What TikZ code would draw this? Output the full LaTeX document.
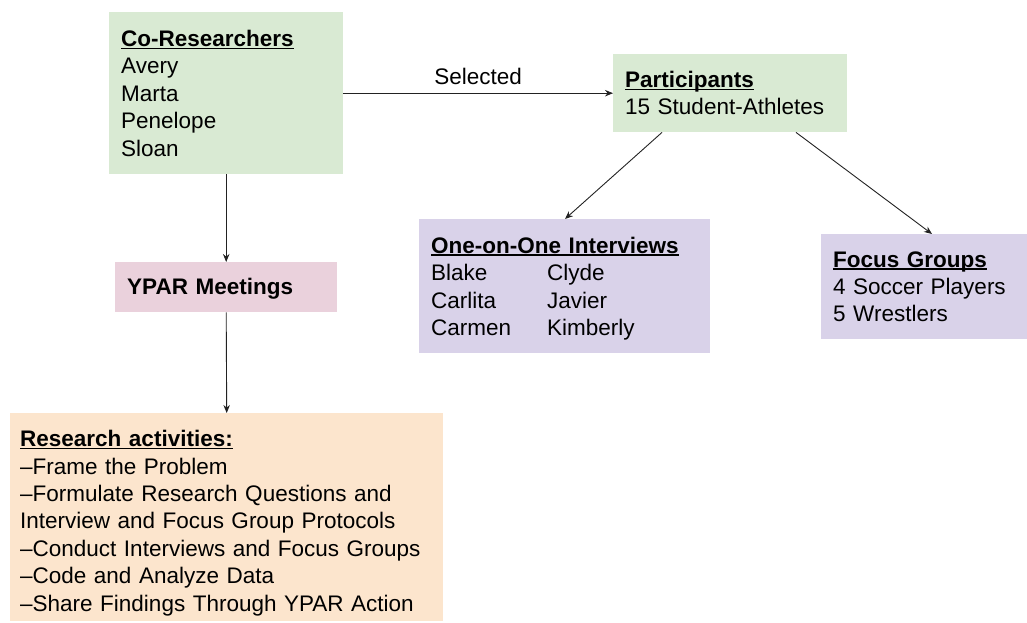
\documentclass[tikz,border=0pt]{standalone}
\usepackage{fontspec}
\setmainfont{Liberation Sans}
\usetikzlibrary{arrows.meta,calc}
\definecolor{cgreen}{HTML}{D9EAD3}
\definecolor{cpink}{HTML}{EAD1DC}
\definecolor{clav}{HTML}{D9D2E9}
\definecolor{cpeach}{HTML}{FCE5CD}
\definecolor{cline}{HTML}{222222}
\newcommand\myul[1]{\setbox0\hbox{\textbf{#1}}\rlap{\rule[-2.6pt]{\wd0}{1.4pt}}\box0}
\tikzset{
  box/.style={anchor=north west, inner xsep=12pt, inner ysep=0pt, align=left,
    font=\fontsize{22.5}{27.4}\selectfont, draw=none},
  conn/.style={draw=cline, line width=0.9pt, -{Stealth[length=8pt,width=6.5pt]}},
}
\begin{document}
\begin{tikzpicture}[x=1pt,y=-1pt]
\useasboundingbox (0,0) rectangle (1027,623);
\node[box, fill=cgreen, text width=210pt, minimum height=162pt] (co) at (109,12)
  {\myul{Co-Researchers}\\Avery\\Marta\\Penelope\\Sloan};
\node[box, fill=cgreen, text width=210pt, minimum height=78pt] (part) at (613,54)
  {\myul{Participants}\\15 Student-Athletes};
\node[box, fill=cpink, text width=198pt, minimum height=50pt] (ypar) at (115,262)
  {\rule{0pt}{19pt}\textbf{YPAR Meetings}};
\node[box, fill=clav, text width=267pt, minimum height=134pt] (ooo) at (419,219)
  {\rule{0pt}{21pt}\myul{One-on-One Interviews}\\
   \makebox[116pt][l]{Blake}Clyde\\
   \makebox[116pt][l]{Carlita}Javier\\
   \makebox[116pt][l]{Carmen}Kimberly};
\node[box, fill=clav, text width=182pt, minimum height=105pt] (fg) at (821,234)
  {\myul{Focus Groups}\\4 Soccer Players\\5 Wrestlers};
\node[box, fill=cpeach, inner xsep=10pt, text width=413pt, minimum height=208pt] (ra) at (10,413)
  {\rule{0pt}{28pt}\myul{Research activities:}\\
   –Frame the Problem\\
   –Formulate Research Questions and\\
   Interview and Focus Group Protocols\\
   –Conduct Interviews and Focus Groups\\
   –Code and Analyze Data\\
   –Share Findings Through YPAR Action};
\draw[conn] (co.east) -- node[above=5pt, font=\fontsize{22.5}{27.4}\selectfont] (sel) {Selected} (part.west);
\draw[conn] (co.south) -- (ypar.north);
\draw[conn] (ypar.south) -- (ra.north);
\draw[conn] ([xshift=49pt]part.south west) -- ([xshift=146pt]ooo.north west);
\draw[conn] ([xshift=183pt]part.south west) -- ([xshift=111pt]fg.north west);
\end{tikzpicture}
\end{document}
